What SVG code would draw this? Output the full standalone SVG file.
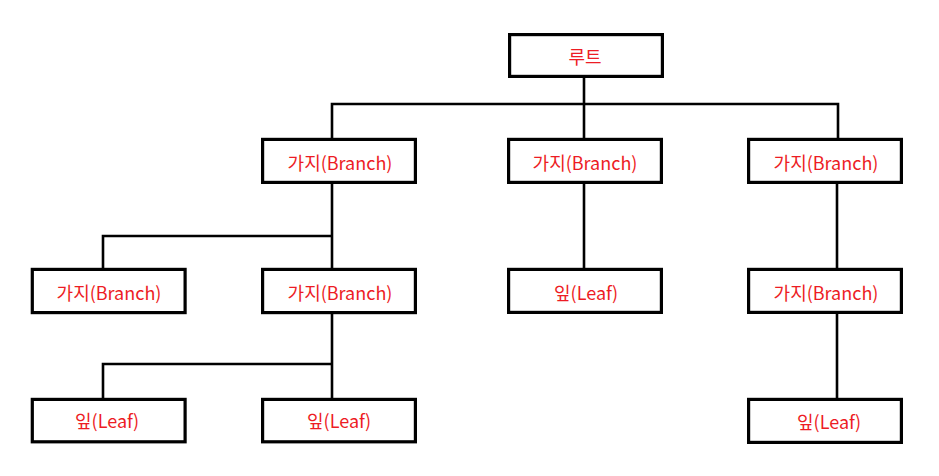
<svg xmlns="http://www.w3.org/2000/svg" width="939" height="476" viewBox="0 0 939 476">
<style>
.box{fill:#fff;stroke:#000;stroke-width:3.2}
.lbl{fill:#ed1c24;font-family:"Malgun Gothic","Noto Sans CJK KR",sans-serif;font-size:18px;text-anchor:middle;dominant-baseline:central}
.ln{stroke:#000;stroke-width:2.6;fill:none}
</style>
<rect width="939" height="476" fill="#fff"/>
<g id="connectors">
<polyline class="ln" points="332,138 332,104 838,104 838,138"/>
<line class="ln" x1="584" y1="78" x2="584" y2="138"/>
<line class="ln" x1="584" y1="184" x2="584" y2="268"/>
<line class="ln" x1="837" y1="184" x2="837" y2="268"/>
<line class="ln" x1="837" y1="314" x2="837" y2="398"/>
<line class="ln" x1="332" y1="184" x2="332" y2="268"/>
<polyline class="ln" points="103,268 103,236 332,236"/>
<line class="ln" x1="332" y1="314" x2="332" y2="398"/>
<polyline class="ln" points="103,398 103,364 332,364"/>
</g>
<g id="root"><rect class="box" x="509.6" y="34.6" width="152.8" height="41.8"/><text class="lbl" x="585" y="56">루트</text></g>
<g id="b1"><rect class="box" x="262.6" y="139.4" width="152.8" height="43"/><text class="lbl" x="340" y="161.5">가지(Branch)</text></g>
<g id="b2"><rect class="box" x="508.6" y="139.4" width="152.8" height="43"/><text class="lbl" x="585" y="161.5">가지(Branch)</text></g>
<g id="b3"><rect class="box" x="748.6" y="139.4" width="152.8" height="43"/><text class="lbl" x="826" y="161.5">가지(Branch)</text></g>
<g id="b4"><rect class="box" x="32.3" y="269.4" width="152.8" height="43.2"/><text class="lbl" x="109" y="291.5">가지(Branch)</text></g>
<g id="b5"><rect class="box" x="262.6" y="269.4" width="152.8" height="43.2"/><text class="lbl" x="340" y="291.5">가지(Branch)</text></g>
<g id="l1"><rect class="box" x="508.6" y="269.4" width="152.8" height="43"/><text class="lbl" x="586" y="291.5">잎(Leaf)</text></g>
<g id="b6"><rect class="box" x="748.6" y="269.4" width="152.8" height="43"/><text class="lbl" x="826" y="291.5">가지(Branch)</text></g>
<g id="l2"><rect class="box" x="32.3" y="399.4" width="152.8" height="42.4"/><text class="lbl" x="107" y="420">잎(Leaf)</text></g>
<g id="l3"><rect class="box" x="262.6" y="399.4" width="152.8" height="42.4"/><text class="lbl" x="339" y="420">잎(Leaf)</text></g>
<g id="l4"><rect class="box" x="748.6" y="399.4" width="152.8" height="43"/><text class="lbl" x="829" y="420.5">잎(Leaf)</text></g>
</svg>
